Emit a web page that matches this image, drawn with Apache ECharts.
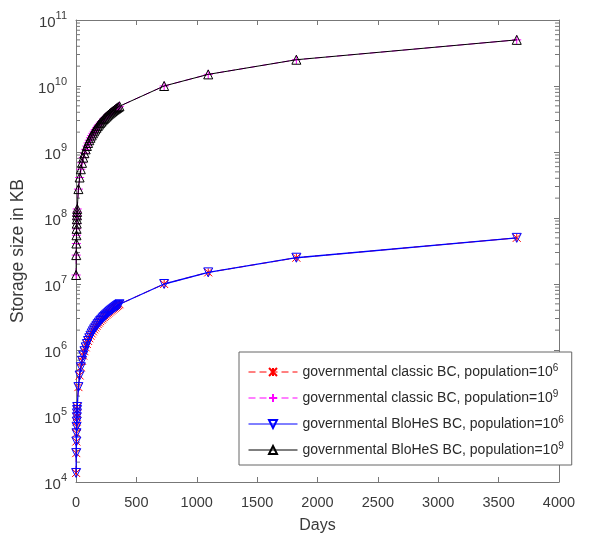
<!DOCTYPE html>
<html><head><meta charset="utf-8">
<script src="https://cdn.jsdelivr.net/npm/echarts@6/dist/echarts.min.js"></script>
<style>html,body{margin:0;padding:0;background:#fff}#c{width:612px;height:541px}</style>
</head><body><div id="c"></div>
<script>
const days = [1,2,3,4,5,6,7,8,9,10,20,30,40,50,60,70,80,90,100,110,120,130,140,150,160,170,180,190,200,210,220,230,240,250,260,270,280,290,300,310,320,330,340,350,360,730,1095,1825,3650];
const classicPop6 = [13700,27400,41100,54800,68500,82200,95900,109600,123300,137000,274000,411000,548000,685000,822000,959000,1096000,1233000,1370000,1507000,1644000,1781000,1918000,2055000,2192000,2329000,2466000,2603000,2740000,2877000,3014000,3151000,3288000,3425000,3562000,3699000,3836000,3973000,4110000,4247000,4384000,4521000,4658000,4795000,4932000,10001000,15001500,25002500,50005000];
const classicPop9 = [1.37e7,2.74e7,4.11e7,5.48e7,6.85e7,8.22e7,9.59e7,1.096e8,1.233e8,1.37e8,2.74e8,4.11e8,5.48e8,6.85e8,8.22e8,9.59e8,1.096e9,1.233e9,1.37e9,1.507e9,1.644e9,1.781e9,1.918e9,2.055e9,2.192e9,2.329e9,2.466e9,2.603e9,2.74e9,2.877e9,3.014e9,3.151e9,3.288e9,3.425e9,3.562e9,3.699e9,3.836e9,3.973e9,4.11e9,4.247e9,4.384e9,4.521e9,4.658e9,4.795e9,4.932e9,1.0001e10,1.50015e10,2.50025e10,5.0005e10];
const blohesPop6 = [13700,27400,41100,54800,68500,82200,95900,109600,123300,137000,274000,411000,548000,685000,822000,959000,1096000,1233000,1370000,1507000,1644000,1781000,1918000,2055000,2192000,2329000,2466000,2603000,2740000,2877000,3014000,3151000,3288000,3425000,3562000,3699000,3836000,3973000,4110000,4247000,4384000,4521000,4658000,4795000,4932000,10001000,15001500,25002500,50005000];
const blohesPop9 = [1.37e7,2.74e7,4.11e7,5.48e7,6.85e7,8.22e7,9.59e7,1.096e8,1.233e8,1.37e8,2.74e8,4.11e8,5.48e8,6.85e8,8.22e8,9.59e8,1.096e9,1.233e9,1.37e9,1.507e9,1.644e9,1.781e9,1.918e9,2.055e9,2.192e9,2.329e9,2.466e9,2.603e9,2.74e9,2.877e9,3.014e9,3.151e9,3.288e9,3.425e9,3.562e9,3.699e9,3.836e9,3.973e9,4.11e9,4.247e9,4.384e9,4.521e9,4.658e9,4.795e9,4.932e9,1.0001e10,1.50015e10,2.50025e10,5.0005e10];
const xTicks = [0,500,1000,1500,2000,2500,3000,3500,4000];
const xRange = [0, 4000];
const yDecades = [4,5,6,7,8,9,10,11];
const seriesNames = [
  'governmental classic BC, population=10{s|6}',
  'governmental classic BC, population=10{s|9}',
  'governmental BloHeS BC, population=10{s|6}',
  'governmental BloHeS BC, population=10{s|9}'
];
const seriesData = [classicPop6, classicPop9, blohesPop6, blohesPop9];

// minor tick positions of the log axis (2..9 within each decade)
const minorTickValues = [];
for (let k = 0; k < yDecades.length - 1; k++) {
  for (let m = 2; m <= 9; m++) minorTickValues.push(m * Math.pow(10, yDecades[k]));
}

const FONT = 'Liberation Sans, Arial, sans-serif';
const AX = '#777';
const TXT = '#3a3a3a';
const crossPath = 'path://M0,0L10,10M10,0L0,10M5,0L5,10';
const plusPath = 'path://M5,0L5,10M0,5L10,5';
const styles = [
  {color:'#ff0000', symbol: crossPath, size: 8, dash:[7,4], rotate:0, w:1},
  {color:'#ff00ff', symbol: plusPath, size: 9, dash:[7,4], rotate:0, w:1},
  {color:'#0000ff', symbol: 'triangle', size: 9, dash:'solid', rotate:180, w:1.3},
  {color:'#000000', symbol: 'triangle', size: 9, dash:'solid', rotate:0, w:1}
];

const chart = echarts.init(document.getElementById('c'));
const series = seriesNames.map((n, i) => ({
  name: n,
  type: 'line',
  xAxisIndex: 0, yAxisIndex: 0,
  data: days.map((d, j) => [d, seriesData[i][j]]),
  symbol: styles[i].symbol,
  symbolSize: styles[i].size,
  symbolRotate: styles[i].rotate,
  showSymbol: true,
  animation: false,
  lineStyle: {color: styles[i].color, width: styles[i].w, type: styles[i].dash},
  itemStyle: {color: 'transparent', borderColor: styles[i].color, borderWidth: 1},
  emphasis: {disabled: true},
  z: 2 + i
}));

// log-axis minor ticks on the left and right edges of the box
[[xRange[0], 2], [xRange[1], -2]].forEach(([xv, off]) => {
  series.push({
    type: 'scatter', name: 'minor' + xv,
    xAxisIndex: 0, yAxisIndex: 0,
    silent: true, animation: false, clip: false,
    data: minorTickValues.map(v => [xv, v]),
    symbol: 'rect', symbolSize: [4, 1], symbolOffset: [off, 0],
    itemStyle: {color: AX, opacity: 1},
    emphasis: {disabled: true},
    z: 1
  });
});

chart.setOption({
  animation: false,
  textStyle: {fontFamily: FONT},
  grid: {left: 76, right: 53, top: 20, bottom: 59},
  xAxis: [{
    type: 'value', min: 0, max: 4000, interval: 500, position: 'bottom',
    name: 'Days', nameLocation: 'middle', nameGap: 36,
    nameTextStyle: {color: TXT, fontSize: 16, fontFamily: FONT},
    axisLine: {show: true, onZero: false, lineStyle: {color: AX}},
    axisTick: {show: true, inside: true, length: 5, lineStyle: {color: AX}},
    axisLabel: {color: TXT, fontSize: 14.5, fontFamily: FONT, margin: 13,
      formatter: v => xTicks.includes(v) ? String(v) : ''},
    splitLine: {show: false}
  }, {
    type: 'value', min: 0, max: 4000, interval: 500, position: 'top',
    axisLine: {show: true, onZero: false, lineStyle: {color: AX}},
    axisTick: {show: true, inside: true, length: 5, lineStyle: {color: AX}},
    axisLabel: {show: false}, splitLine: {show: false}
  }],
  yAxis: [{
    type: 'log', logBase: 10, min: 1e4, max: 1e11, interval: 1, position: 'left',
    name: 'Storage size in KB', nameLocation: 'middle', nameGap: 45, nameRotate: 90,
    nameTextStyle: {color: TXT, fontSize: 17.5, fontFamily: FONT},
    axisLine: {show: true, onZero: false, lineStyle: {color: AX}},
    axisTick: {show: true, inside: true, length: 5, lineStyle: {color: AX}},
    axisLabel: {color: TXT, fontFamily: FONT, margin: 9,
      formatter: v => '{b|10}{s|' + Math.round(Math.log10(v)) + '}',
      rich: {b: {fontSize: 15, color: TXT, fontFamily: FONT, verticalAlign: 'bottom'},
             s: {fontSize: 11, color: TXT, fontFamily: FONT, verticalAlign: 'bottom', padding: [0,0,9,0]}}},
    splitLine: {show: false}
  }, {
    type: 'log', logBase: 10, min: 1e4, max: 1e11, interval: 1, position: 'right',
    axisLine: {show: true, onZero: false, lineStyle: {color: AX}},
    axisTick: {show: true, inside: true, length: 5, lineStyle: {color: AX}},
    axisLabel: {show: false}, splitLine: {show: false}
  }],
  legend: {
    left: 239, top: 352, orient: 'vertical', selectedMode: false,
    backgroundColor: '#fff', borderColor: '#666', borderWidth: 1,
    padding: [11, 8, 8, 9], itemGap: 10, itemWidth: 49, itemHeight: 10,
    lineStyle: {width: 1},
    textStyle: {color: '#2a2a2a', fontSize: 14, fontFamily: FONT,
      rich: {s: {fontSize: 10, color: '#2a2a2a', fontFamily: FONT, verticalAlign: 'bottom', padding: [0,0,8,0]}}},
    data: seriesNames
  },
  series: series
});
</script></body></html>
